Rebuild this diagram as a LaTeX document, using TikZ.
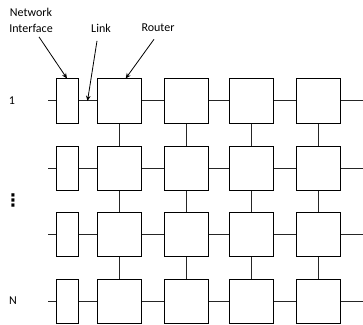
\documentclass[tikz,border=0pt]{standalone}
\usepackage{fontspec}
\setmainfont{Carlito}
\newfontfamily\dotsfont{DejaVu Sans}
\usetikzlibrary{arrows.meta}

\begin{document}
\begin{tikzpicture}[
    x=0.75pt,y=-0.75pt,
    font=\fontsize{9}{12}\selectfont,
    router/.style={draw,line width=0.75pt,minimum width=33pt,minimum height=33pt,
                   inner sep=0pt,fill=white},
    ni/.style={draw,line width=0.75pt,minimum width=16.5pt,minimum height=33pt,
               inner sep=0pt,fill=white},
    lnk/.style={line width=0.75pt,black!85},
    call/.style={-{Stealth[length=4pt,width=3.5pt]},line width=0.6pt},
  ]
  \useasboundingbox (0,0) rectangle (363,324);

  % mesh: one network interface and four routers per row
  \foreach \r/\y in {1/101,2/168,3/234,4/301} {
    \node[ni] (ni\r) at (67,\y) {};
    \coordinate (in\r) at (48,\y);
    \coordinate (out\r) at (363,\y);
    \foreach \c/\x in {1/119,2/186,3/251,4/318}
      \node[router] (r\r\c) at (\x,\y) {};
    \draw[lnk] (in\r) -- (ni\r);
    \draw[lnk] (ni\r) -- (r\r1);
    \foreach \a/\b in {1/2,2/3,3/4}
      \draw[lnk] (r\r\a) -- (r\r\b);
    \draw[lnk] (r\r4) -- (out\r);
  }
  % vertical links between rows
  \foreach \a/\b in {1/2,2/3,3/4}
    \foreach \c in {1,...,4}
      \draw[lnk] (r\a\c) -- (r\b\c);

  % row labels
  \node (row1) at (12,101) {1};
  \node (rowN) at (13,301) {N};
  \node[font=\dotsfont\bfseries\fontsize{13}{13}\selectfont] (rowdots) at (13,200) {⋮};

  % callouts
  \node[align=center] (lblni) at (31,20) {Network\\Interface};
  \node (lblk) at (101,28) {Link};
  \node (lbrt) at (158,28) {Router};
  \path (ni1) -- coordinate[pos=0.5] (lk1) (r11);
  \draw[call] ([xshift=6pt]lblni.south) -- (ni1.north);
  \draw[call] ([xshift=-3pt,yshift=-3pt]lblk.south) -- (lk1);
  \draw[call] ([xshift=-3pt,yshift=-2pt]lbrt.south) -- ([xshift=5pt]r11.north);
\end{tikzpicture}
\end{document}
